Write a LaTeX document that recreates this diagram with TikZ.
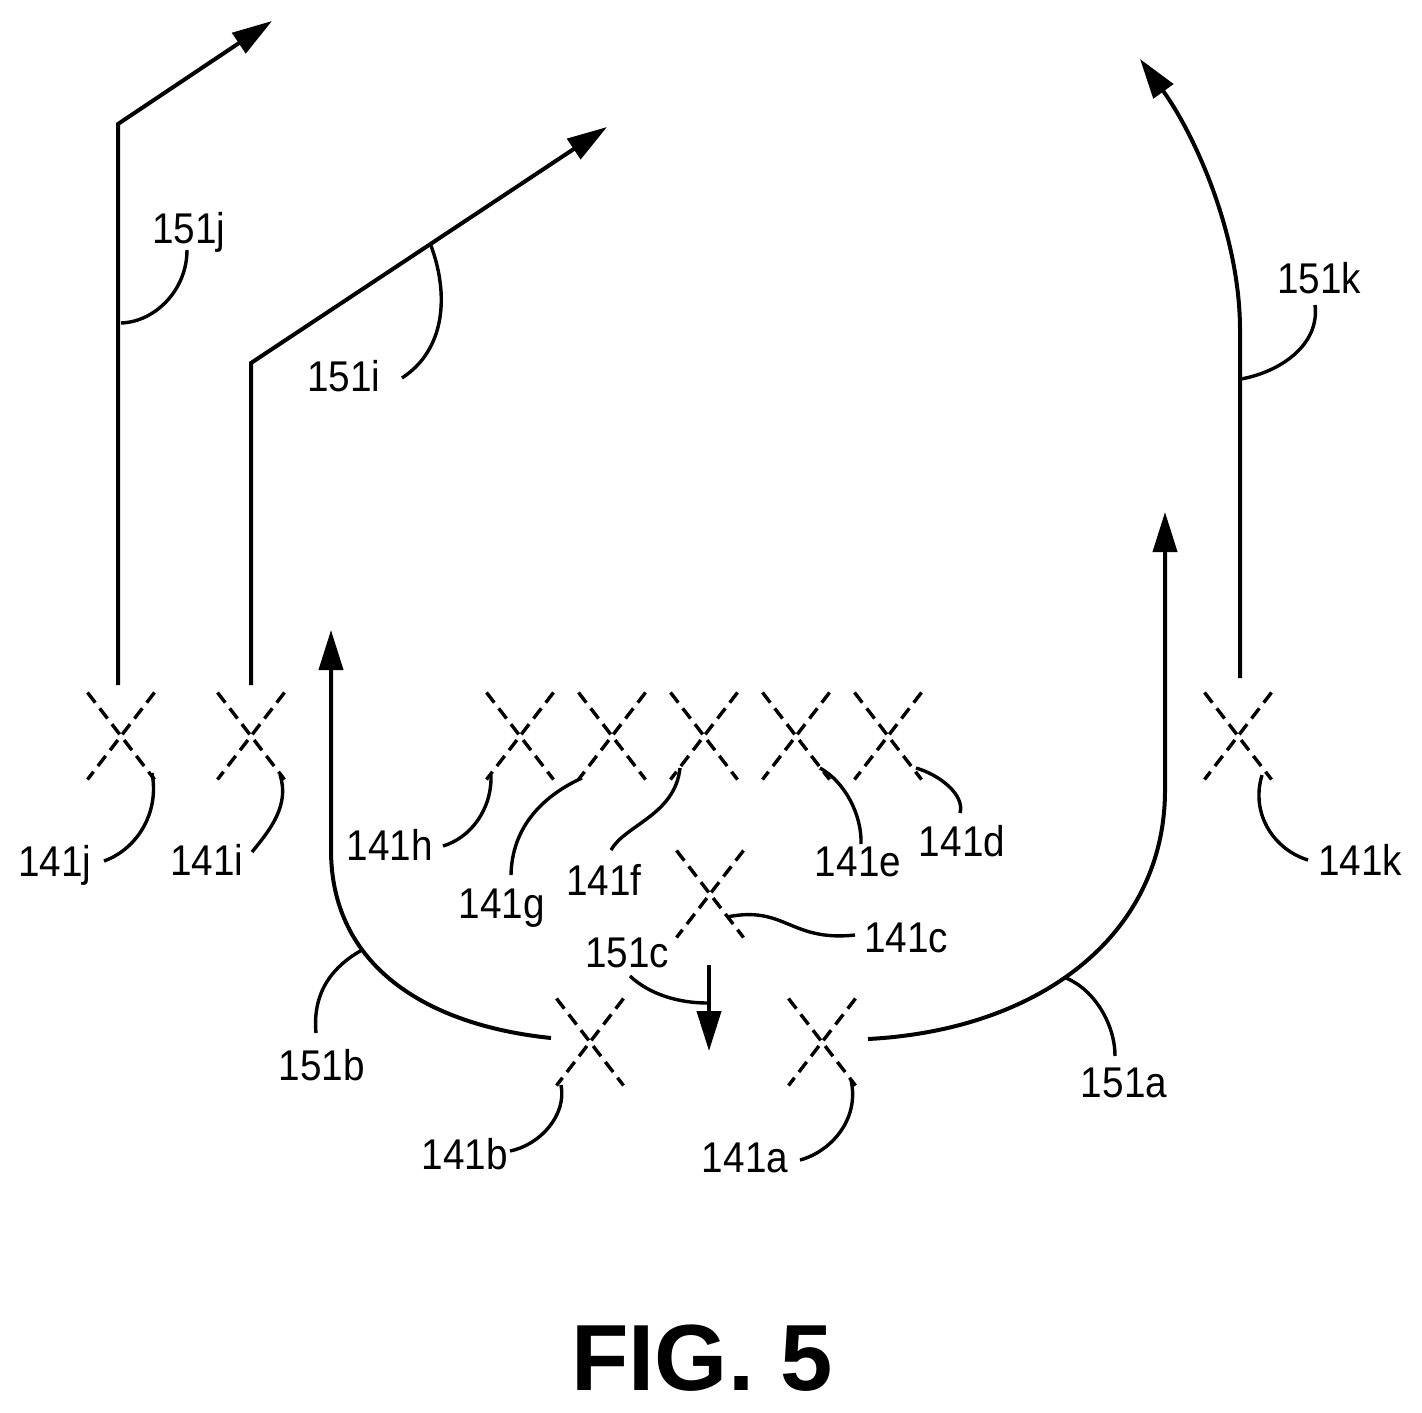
\documentclass[tikz,border=0pt]{standalone}
\usepackage{fontspec}
\setmainfont[FakeStretch=0.9]{Liberation Sans}
\newfontfamily\figfont[FakeStretch=1.0]{Liberation Sans}
\usetikzlibrary{arrows.meta}
\tikzset{
  flow/.style={line width=2pt,line join=miter},
  flowtip/.style={flow,-{Triangle[length=20pt,width=12pt]}},
  lead/.style={line width=1.7pt},
  crossline/.style={line width=1.7pt,dash pattern=on 6.4pt off 3.6pt},
  lab/.style={inner sep=0pt,font=\fontsize{21.5}{24}\selectfont,text height=15.6pt,text depth=0pt,anchor=center},
  figlab/.style={inner sep=0pt,font=\figfont\bfseries\fontsize{47}{50}\selectfont},
}
\begin{document}
\begin{tikzpicture}[x=0.5pt,y=-0.5pt]
\useasboundingbox (0,0) rectangle (1422,1412);
% crossings
\foreach \n/\x/\y in {j/121/736,i/251/736,h/520/736,g/612/736,f/704/736,e/796/736,d/888/736,k/1238/736,c/710/894,b/590/1042,a/822/1042}{
  \coordinate (X\n) at (\x,\y);
  \draw[crossline] ([shift={(-33.5,-43.5)}]X\n) -- ([shift={(33.5,43.5)}]X\n);
  \draw[crossline] ([shift={(33.5,-43.5)}]X\n) -- ([shift={(-33.5,43.5)}]X\n);
}
% labels
\node[lab] (L151j) at (189,228) {151j};
\node[lab] (L151i) at (344,376) {151i};
\node[lab] (L151k) at (1319,278) {151k};
\node[lab] (L141j) at (55,861) {141j};
\node[lab] (L141i) at (207,860) {141i};
\node[lab] (L141h) at (390,845) {141h};
\node[lab] (L141g) at (502,903) {141g};
\node[lab] (L141f) at (604,880) {141f};
\node[lab] (L141e) at (858,861) {141e};
\node[lab] (L141d) at (962,841) {141d};
\node[lab] (L141k) at (1360,860) {141k};
\node[lab] (L141c) at (906,937) {141c};
\node[lab] (L151c) at (627,952) {151c};
\node[lab] (L151b) at (322,1065) {151b};
\node[lab] (L151a) at (1124,1082) {151a};
\node[lab] (L141b) at (465,1154) {141b};
\node[lab] (L141a) at (745,1157) {141a};
\node[figlab] (FIG) at (702,1358) {FIG. 5};
% flows: ends
\coordinate (Fjs) at (118,685); \coordinate (Fjm) at (118,124); \coordinate (Fje) at (272,21);
\coordinate (Fis) at (251,685); \coordinate (Fim) at (251,363); \coordinate (Fie) at (607,127);
\coordinate (Fks) at (1240,678); \coordinate (Fkm) at (1240,330); \coordinate (Fke) at (1140,59);
\coordinate (Fas) at (868,1039); \coordinate (Fam) at (1165,790); \coordinate (Fae) at (1165,512);
\coordinate (Fbs) at (551,1038); \coordinate (Fbm) at (331,850); \coordinate (Fbe) at (331,630);
\coordinate (Fcs) at (709,965); \coordinate (Fce) at (709,1051);
\draw[flowtip] (Fjs) -- (Fjm) -- (Fje);
\draw[flowtip] (Fis) -- (Fim) -- (Fie);
\draw[flowtip] (Fks) -- (Fkm) .. controls (1240,235) and (1195,135) .. (Fke);
\draw[flowtip] (Fas) .. controls (1040,1030) and (1165,935) .. (Fam) -- (Fae);
\draw[flowtip] (Fbs) .. controls (425,1025) and (331,965) .. (Fbm) -- (Fbe);
\draw[flowtip] (Fcs) -- (Fce);
% leaders: ends
\coordinate (A1) at (104,861); \coordinate (B1) at (152,773);
\coordinate (A2) at (252,852); \coordinate (B2) at (280,775);
\coordinate (A3) at (443,846); \coordinate (B3) at (491,775);
\coordinate (A4) at (511,875); \coordinate (B4) at (582,778);
\coordinate (A5) at (611,850); \coordinate (B5) at (680,768);
\coordinate (A6) at (861,844); \coordinate (B6) at (820,768);
\coordinate (A7) at (960,813); \coordinate (B7) at (916,768);
\coordinate (A8) at (1308,860); \coordinate (B8) at (1262,775);
\coordinate (A9) at (855,935); \coordinate (B9) at (727,917);
\coordinate (A10) at (630,976); \coordinate (B10) at (707,1003);
\coordinate (A11) at (510,1151); \coordinate (B11) at (561,1085);
\coordinate (A12) at (800,1160); \coordinate (B12) at (851,1080);
\coordinate (A13) at (316,1033); \coordinate (B13) at (362,950);
\coordinate (A14) at (1115,1056); \coordinate (B14) at (1066,978);
\coordinate (A15) at (402,378); \coordinate (B15) at (430,243);
\coordinate (A16) at (187,250); \coordinate (B16) at (121,323);
\coordinate (A17) at (1315,305); \coordinate (B17) at (1241,379);
\draw[lead] (A1) .. controls (135,850) and (160,815) .. (B1);
\draw[lead] (A2) .. controls (270,830) and (290,805) .. (B2);
\draw[lead] (A3) .. controls (470,838) and (492,810) .. (B3);
\draw[lead] (A4) .. controls (512,825) and (545,795) .. (B4);
\draw[lead] (A5) .. controls (625,825) and (675,815) .. (B5);
\draw[lead] (A6) .. controls (862,815) and (845,782) .. (B6);
\draw[lead] (A7) .. controls (965,795) and (940,775) .. (B7);
\draw[lead] (A8) .. controls (1275,850) and (1250,815) .. (B8);
\draw[lead] (A9) .. controls (790,942) and (785,905) .. (B9);
\draw[lead] (A10) .. controls (650,995) and (680,1003) .. (B10);
\draw[lead] (A11) .. controls (540,1145) and (567,1115) .. (B11);
\draw[lead] (A12) .. controls (830,1152) and (860,1120) .. (B12);
\draw[lead] (A13) .. controls (312,990) and (335,965) .. (B13);
\draw[lead] (A14) .. controls (1115,1025) and (1095,990) .. (B14);
\draw[lead] (A15) .. controls (445,350) and (450,295) .. (B15);
\draw[lead] (A16) .. controls (187,290) and (155,322) .. (B16);
\draw[lead] (A17) .. controls (1320,345) and (1280,372) .. (B17);
\end{tikzpicture}
\end{document}
